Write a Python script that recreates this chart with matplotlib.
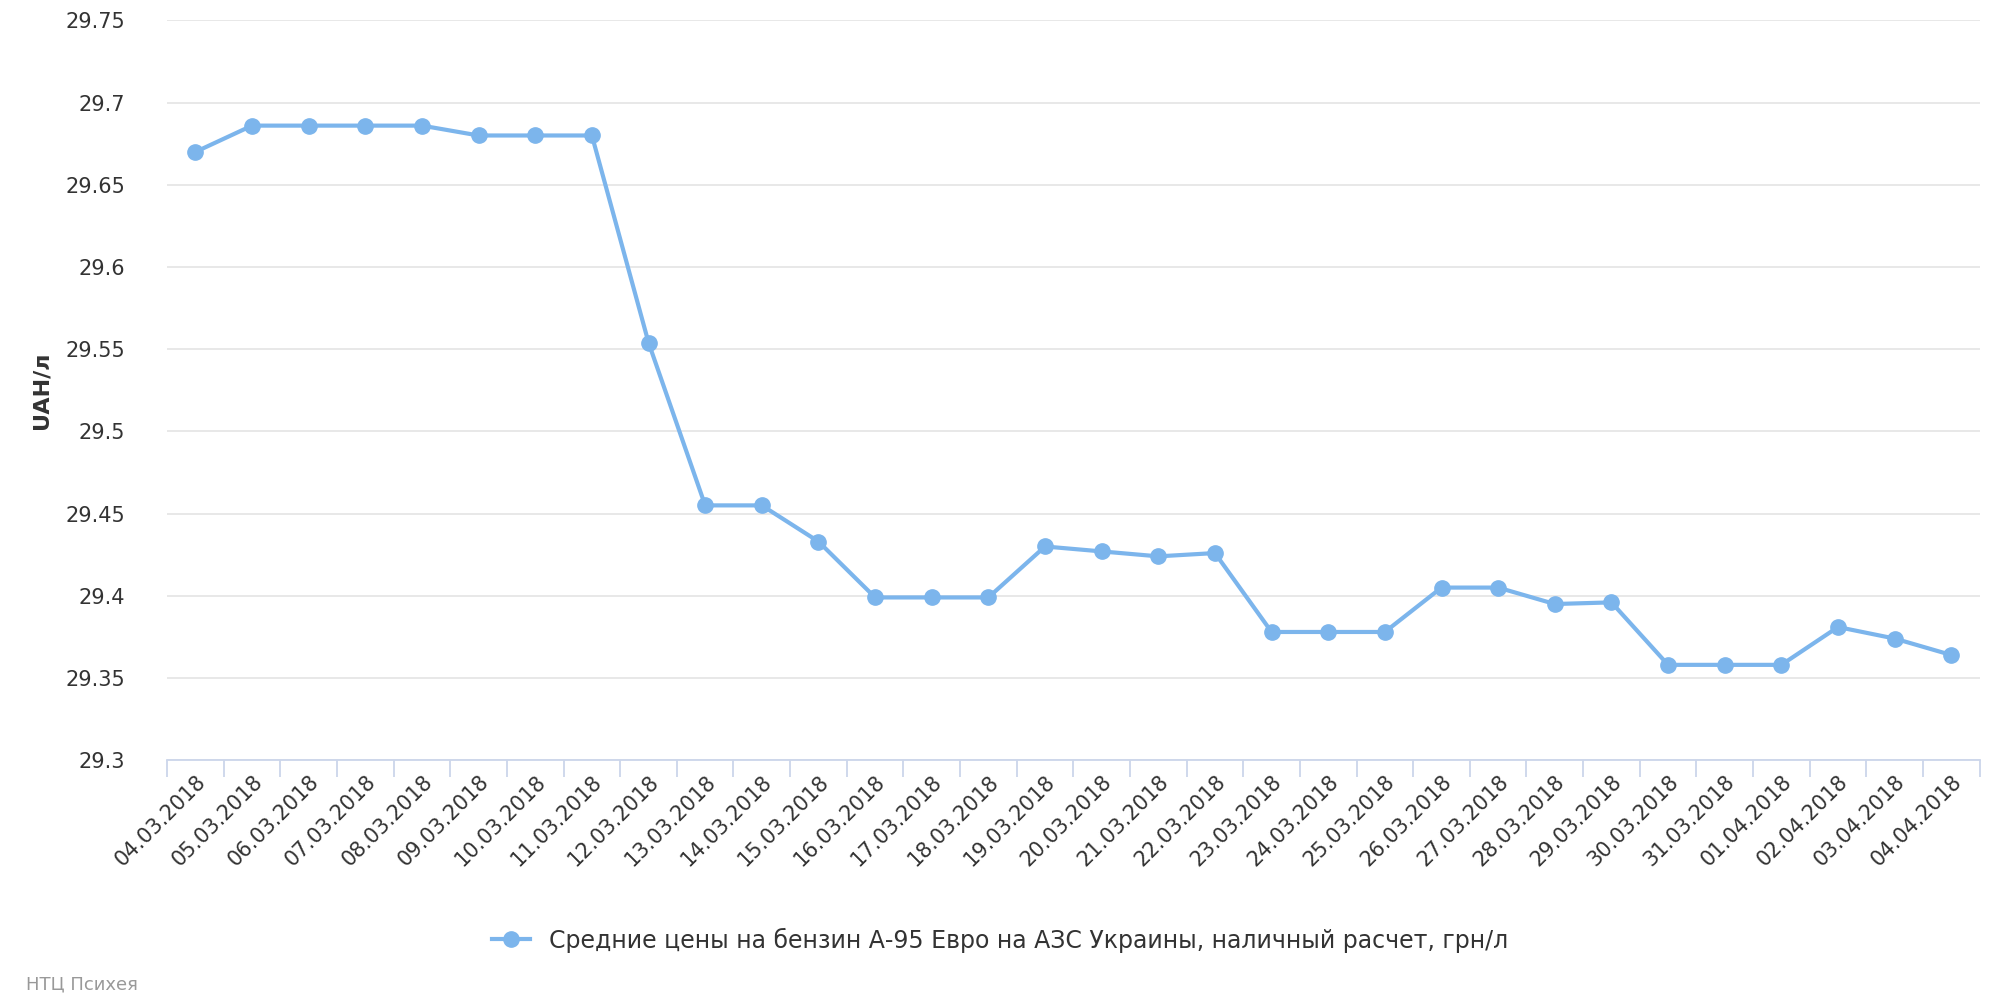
import matplotlib
matplotlib.use("Agg")
import matplotlib.pyplot as plt
from matplotlib.lines import Line2D

dates = ["04.03.2018","05.03.2018","06.03.2018","07.03.2018","08.03.2018","09.03.2018","10.03.2018","11.03.2018",
         "12.03.2018","13.03.2018","14.03.2018","15.03.2018","16.03.2018","17.03.2018","18.03.2018","19.03.2018",
         "20.03.2018","21.03.2018","22.03.2018","23.03.2018","24.03.2018","25.03.2018","26.03.2018","27.03.2018",
         "28.03.2018","29.03.2018","30.03.2018","31.03.2018","01.04.2018","02.04.2018","03.04.2018","04.04.2018"]
prices = [29.670,29.686,29.686,29.686,29.686,29.680,29.680,29.680,
          29.554,29.455,29.455,29.433,29.399,29.399,29.399,29.430,
          29.427,29.424,29.426,29.378,29.378,29.378,29.405,29.405,
          29.395,29.396,29.358,29.358,29.358,29.381,29.374,29.364]
yticks = [29.3,29.35,29.4,29.45,29.5,29.55,29.6,29.65,29.7,29.75]
ylabels = ["29.3","29.35","29.4","29.45","29.5","29.55","29.6","29.65","29.7","29.75"]
series_name = "Средние цены на бензин А-95 Евро на АЗС Украины, наличный расчет, грн/л"

c = "#7cb5ec"
fig = plt.figure(figsize=(20, 10), dpi=100)
ax = fig.add_axes([131/1568, 1-596/784, (1552-131)/1568, (596-16)/784])
x = list(range(len(dates)))
ax.plot(x, prices, color=c, lw=3, marker="o", ms=11)
ax.set_xlim(-0.5, len(dates)-0.5)
ax.set_ylim(29.3, 29.75)
ax.set_yticks(yticks)
ax.set_yticklabels(ylabels, fontsize=15, color="#333333")
ax.yaxis.grid(True, color="#e6e6e6", lw=1.3)
ax.set_axisbelow(True)
ax.tick_params(axis="y", length=0, pad=30)
for t in ax.get_yticklabels():
    t.set_horizontalalignment("right")
ax.set_xticks(x)
ax.set_xticklabels(dates, rotation=45, ha="right", rotation_mode="anchor", fontsize=15, color="#333333")
ax.tick_params(axis="x", length=0, pad=8)
ax.set_xticks([i-0.5 for i in range(len(dates)+1)], minor=True)
ax.tick_params(axis="x", which="minor", length=12, color="#ccd6eb", width=1.3)
for s in ["top","right","left"]:
    ax.spines[s].set_visible(False)
ax.spines["bottom"].set_color("#ccd6eb")
ax.spines["bottom"].set_linewidth(1.3)
ax.set_ylabel("UAH/л", fontsize=16, fontweight="bold", color="#333333", labelpad=10)
h = Line2D([], [], color=c, lw=3, marker="o", ms=11)
fig.legend([h], [series_name], loc="center", bbox_to_anchor=(0.5, 1-737/784), frameon=False,
           fontsize=17, handlelength=1.6, labelcolor="#333333")
fig.text(20/1568, 1-772/784, "НТЦ Психея", fontsize=13, color="#999999", va="center")
fig.savefig("out.png", dpi=100)
